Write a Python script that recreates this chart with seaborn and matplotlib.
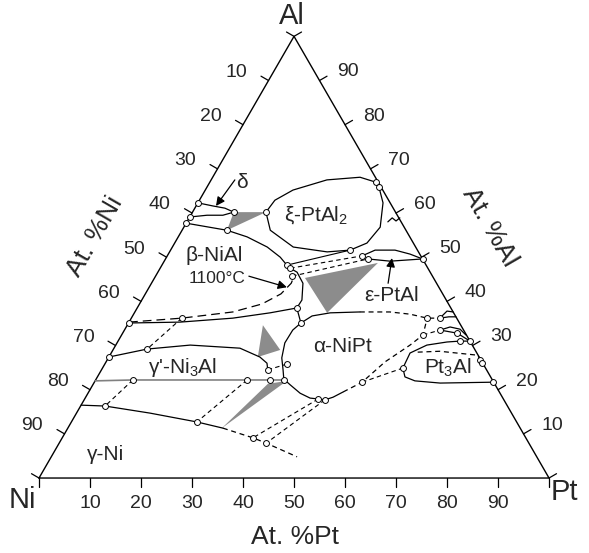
import matplotlib
matplotlib.use("Agg")
import matplotlib.pyplot as plt
import seaborn as sns
import numpy as np
import pandas as pd

# all points are (at.% Pt, at.% Al); Ni is the balance
delta_top = [(0, 62.3), (3.3, 61.6), (5.9, 61.1), (8.1, 60.2)]
delta_bot = [(0, 59.1), (3.2, 59.5), (6.3, 59.5), (8.1, 60.2)]
beta_top = [(0, 57.7), (8.8, 56.1), (13.5, 54.6), (18.6, 52.3), (22.3, 50.0), (24.5, 48.2)]
beta_right = [(24.5, 48.2), (25.5, 47.5), (27.3, 46.6), (29.7, 44.1), (31.4, 40.3), (31.3, 38.5), (33.8, 35.1)]
beta_1100 = [(0, 35.3), (9.9, 36.2), (19.2, 37.6), (24.0, 39.4), (26.6, 41.7), (27.4, 44.1), (27.1, 46.2)]
beta_low = [(0, 35.1), (10.0, 35.3), (19.9, 36.2), (26.6, 37.4), (31.3, 38.5)]
gp_top = [(0, 27.4), (6.6, 29.2), (14.6, 30.1), (24.7, 29.4), (29.6, 27.4), (31.7, 26.0), (32.6, 24.5)]
gp_bottom = [(0, 22.0), (7.3, 22.2), (29.7, 22.2), (34.2, 22.2), (36.9, 22.2)]
gamma_solid = [(0, 16.5), (4.8, 16.3), (14.4, 14.7), (24.6, 12.7), (30.4, 11.3)]
gamma_dash = [(30.4, 11.3), (37.4, 9.1), (40.6, 7.9), (48.2, 4.8)]
alpha_left = [(33.8, 35.1), (33.0, 33.5), (32.9, 30.6), (34.0, 27.2), (35.6, 24.5), (36.8, 22.4),
              (38.7, 21.1), (41.6, 19.2), (44.1, 18.1), (45.8, 17.9), (47.2, 17.7), (48.5, 18.3), (49.9, 19.5)]
alpha_right = [(49.9, 19.5), (52.5, 21.7), (54.7, 26.3), (57.7, 30.1), (59.1, 32.4), (58.0, 36.2)]
alpha_top = [(33.8, 35.1), (35.2, 36.7), (38.4, 37.4), (44.1, 37.6)]
alpha_top_dash = [(44.1, 37.6), (50.0, 37.6), (54.2, 37.1), (58.0, 36.2), (60.5, 36.2)]
xi_loop = [(14.4, 60.2), (14.8, 62.9), (17.2, 65.2), (22.7, 67.5), (28.9, 68.1), (32.5, 67.0),
           (33.7, 65.9), (36.3, 62.3), (38.5, 56.8), (37.7, 53.2), (35.2, 51.6), (30.9, 51.2),
           (23.7, 52.3), (17.3, 56.1), (14.4, 60.2)]
eps_upper = [(38.2, 50.3), (40.1, 51.6), (44.0, 51.6), (47.4, 50.7), (50.4, 49.6)]
eps_lower = [(39.7, 49.6), (44.3, 49.1), (50.4, 49.6)]
lens_a_up = [(60.5, 36.2), (61.1, 37.8), (62.4, 37.6)]
lens_a_lo = [(60.5, 36.2), (62.1, 36.5), (63.5, 36.5)]
lens_b_up = [(61.9, 33.5), (63.5, 34.2), (65.7, 33.7), (67.5, 32.4)]
lens_b_lo = [(61.9, 33.5), (65.6, 32.8), (69.0, 31.0)]
pt3al_top = [(58.9, 24.9), (58.6, 28.3), (61.0, 30.1), (64.6, 30.8), (67.0, 31.0), (69.0, 31.0)]
pt3al_dash = [(60.0, 28.5), (64.2, 28.7), (72.2, 27.8), (73.1, 26.7)]
pt3al_bottom = [(58.9, 24.9), (60.3, 22.9), (62.7, 22.0), (67.9, 21.5), (78.2, 21.7)]
squiggle = [(39.4, 58.0), (39.8, 58.9), (40.9, 58.2), (41.3, 58.9)]

tie_solid = [((24.5, 48.2), (35.2, 51.6))]
tie_dashed = [((9.9, 36.2), (6.6, 29.2)), ((7.3, 22.2), (4.8, 16.3)), ((29.7, 22.2), (24.6, 12.7)),
              ((32.6, 24.5), (35.7, 25.8)), ((45.8, 17.9), (37.4, 9.1)), ((47.2, 17.7), (40.6, 7.9)),
              ((52.5, 21.7), (58.9, 24.9)), ((59.1, 32.4), (61.9, 33.5)),
              ((25.5, 47.5), (38.2, 50.3)), ((26.8, 45.7), (39.7, 49.6))]

gray_tri = [[(8.1, 60.2), (8.8, 56.1), (14.4, 60.2)],
            [(29.5, 45.3), (42.1, 48.7), (37.8, 37.4)],
            [(26.6, 34.6), (29.2, 27.4), (32.8, 29.0)],
            [(34.2, 21.3), (37.6, 22.0), (30.2, 11.3)]]

circles = [(0, 62.3), (0, 59.1), (8.1, 60.2), (0, 57.7), (8.8, 56.1), (14.4, 60.2), (32.5, 67.0),
           (33.7, 65.9), (35.2, 51.6), (38.2, 50.3), (39.7, 49.6), (50.4, 49.6), (24.5, 48.2),
           (25.5, 47.5), (26.8, 45.7), (31.3, 38.5), (33.8, 35.1), (0, 35.2), (9.9, 36.2),
           (6.6, 29.2), (0, 27.4), (7.3, 22.2), (29.7, 22.2), (32.6, 24.5), (34.2, 22.2),
           (36.9, 22.2), (35.7, 25.8), (4.8, 16.3), (24.6, 12.7), (45.8, 17.9), (47.2, 17.7),
           (37.4, 9.1), (40.6, 7.9), (52.5, 21.7), (58.9, 24.9), (59.1, 32.4), (58.0, 36.2),
           (60.5, 36.2), (61.9, 33.5), (65.6, 32.8), (67.0, 31.0), (69.0, 31.0), (73.1, 26.7),
           (73.9, 26.0), (78.2, 21.7)]

tick_vals = list(range(0, 101, 10))


def tern(pts):
    a = np.asarray(pts, dtype=float)
    pt, al = a[:, 0], a[:, 1]
    return pt + al / 2, al * np.sqrt(3) / 2


sns.set_theme(style="white")
plt.rcParams['font.family'] = ['Liberation Sans', 'DejaVu Sans']
plt.rcParams['mathtext.fontset'] = 'custom'
plt.rcParams['mathtext.rm'] = 'Liberation Sans'
plt.rcParams['mathtext.default'] = 'regular'

fig = plt.figure(figsize=(5.89, 5.53), dpi=100)
ax = fig.add_axes([0, 0, 1, 1])
ax.axis('off')

K = 'black'
LW = 0.9

# triangle frame
x, y = tern([(0, 0), (100, 0), (0, 100), (0, 0)])
ax.plot(x, y, color=K, lw=1.0)

# ticks and labels
L = 1.7
r3 = np.sqrt(3) / 2
for v in tick_vals:
    bx, by = tern([(v, 0)])
    ax.plot([bx[0], bx[0]], [by[0], by[0] - L], color=K, lw=0.9)
    lx, ly = tern([(0, 100 - v)])
    ax.plot([lx[0], lx[0] - L * r3], [ly[0], ly[0] + L / 2], color=K, lw=0.9)
    rx, ry = tern([(100 - v, v)])
    ax.plot([rx[0], rx[0] + L * r3], [ry[0], ry[0] + L / 2], color=K, lw=0.9)
    if 0 < v < 100:
        ax.text(bx[0], by[0] - 4.9, str(v), ha='center', va='center', fontsize=14)
        ax.text(lx[0] - 6.3, ly[0] + 1.6, str(v), ha='center', va='center', fontsize=14)
        ax.text(rx[0] + 5.6, ry[0] + 1.7, str(v), ha='center', va='center', fontsize=14)

# gray tie triangles
for tri in gray_tri:
    x, y = tern(tri)
    ax.fill(x, y, color='#8c8c8c', lw=0, zorder=2)

solid = [delta_top, delta_bot, beta_top, beta_right, beta_low, gp_top, gamma_solid,
         alpha_left, alpha_top, xi_loop, eps_upper, eps_lower, lens_a_up, lens_a_lo,
         lens_b_up, lens_b_lo, pt3al_top, pt3al_bottom, squiggle]
for c in solid:
    x, y = tern(c)
    ax.plot(x, y, color=K, lw=LW, zorder=3)
x, y = tern(gp_bottom)
ax.plot(x, y, color='#808080', lw=1.2, zorder=3)

for c in [gamma_dash, alpha_right, alpha_top_dash, pt3al_dash]:
    x, y = tern(c)
    ax.plot(x, y, color=K, lw=LW, ls=(0, (4, 3)), zorder=3)
x, y = tern(beta_1100)
ax.plot(x, y, color=K, lw=LW, ls=(0, (7, 4)), zorder=3)

for a, b in tie_dashed:
    x, y = tern([a, b])
    ax.plot(x, y, color=K, lw=0.8, ls=(0, (4, 3)), zorder=3)
for a, b in tie_solid:
    x, y = tern([a, b])
    ax.plot(x, y, color=K, lw=0.8, zorder=3)

cx, cy = tern(circles)
sns.scatterplot(data=pd.DataFrame({'x': cx, 'y': cy}), x='x', y='y', ax=ax, s=18,
                facecolor='white', edgecolor=K, linewidth=0.7, zorder=5, legend=False)
ax.set_xlim(-7.65, 107.84)
ax.set_ylim(-14.7, 93.73)

# corner and axis labels
ax.text(49.6, 90.6, 'Al', ha='center', va='center', fontsize=21)
ax.text(-3.3, -4.3, 'Ni', ha='center', va='center', fontsize=21)
ax.text(103.1, -2.7, 'Pt', ha='center', va='center', fontsize=21)
ax.text(50.2, -11.6, 'At. %Pt', ha='center', va='center', fontsize=19)
ax.text(11.0, 47.3, 'At. %Ni', ha='center', va='center', fontsize=19, rotation=60)
ax.text(88.4, 49.2, 'At. %Al', ha='center', va='center', fontsize=19, rotation=-60)

# phase labels
labels = [('δ', 39.8, 58.0), ('ξ-PtAl$_2$', 54.3, 51.6), ('β-NiAl', 34.3, 43.7),
          ('ε-PtAl', 69.2, 35.7), ('α-NiPt', 59.6, 25.7), ('Pt$_3$Al', 80.2, 21.6),
          ("γ'-Ni$_3$Al", 28.2, 21.6), ('γ-Ni', 13.1, 4.7)]
for t, lx, ly in labels:
    ax.text(lx, ly, t, ha='center', va='center', fontsize=15, zorder=6)
ax.text(34.9, 39.2, '1100°C', ha='center', va='center', fontsize=12.5, zorder=6)

arrows = [((4.65, 67.5), (3.9, 61.6)), ((18.3, 45.7), (27.0, 43.2)), ((46.4, 44.1), (44.3, 49.8))]
for tail, head in arrows:
    tx, ty = tern([tail])
    hx, hy = tern([head])
    ax.annotate('', xy=(hx[0], hy[0]), xytext=(tx[0], ty[0]),
                arrowprops=dict(arrowstyle='-|>', color=K, lw=0.9, mutation_scale=13,
                                shrinkA=0, shrinkB=0), zorder=6)

fig.savefig('out.png', dpi=100)
